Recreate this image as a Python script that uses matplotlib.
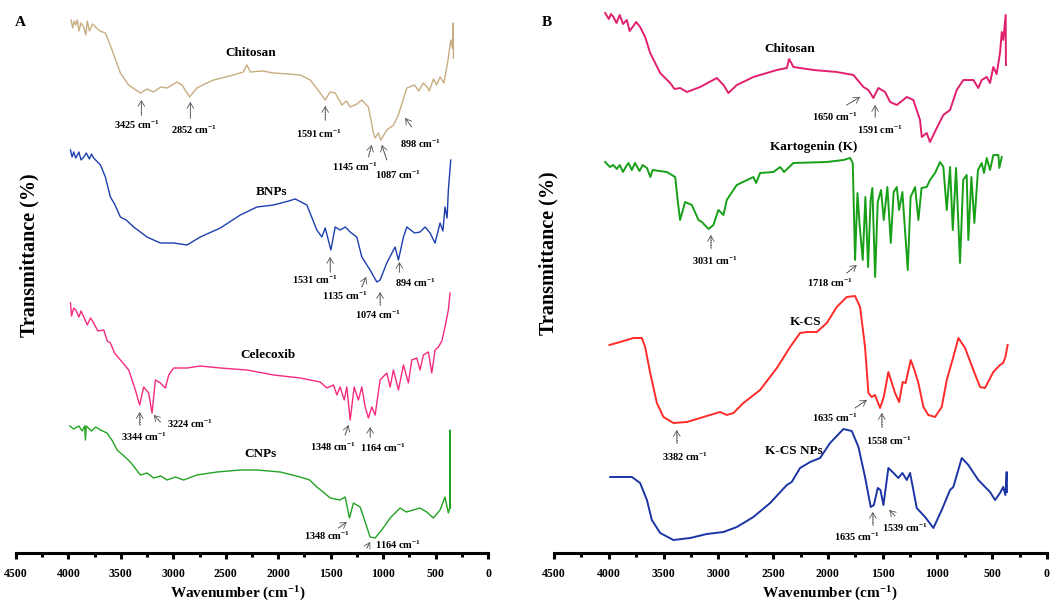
import matplotlib
matplotlib.use('Agg')
import matplotlib.pyplot as plt
from matplotlib.ticker import MultipleLocator

plt.rcParams['font.family'] = ['Liberation Serif', 'DejaVu Serif']
plt.rcParams['font.weight'] = 'bold'
plt.rcParams['mathtext.fontset'] = 'custom'
plt.rcParams['mathtext.rm'] = 'Liberation Serif:bold'
plt.rcParams['mathtext.bf'] = 'Liberation Serif:bold'
plt.rcParams['mathtext.default'] = 'bf'

SUP = r'cm$^{-1}$'

# ---------------- Panel A data (wavenumber cm-1, stacked transmittance a.u.) ----------------
chitosanA_wn = [3974, 3960, 3945, 3930, 3915, 3900, 3880, 3854, 3835, 3820, 3800, 3770, 3743, 3700, 3648,
                3584, 3505, 3427, 3314, 3250, 3190, 3120, 3060, 2965, 2917, 2845, 2775, 2700, 2617, 2427,
                2333, 2298, 2267, 2150, 2045, 1900, 1790, 1695, 1600, 1552, 1505, 1457, 1393, 1350, 1314,
                1250, 1203, 1140, 1092, 1076, 1045, 1022, 965, 900, 855, 774, 700, 660, 617, 580, 560,
                520, 490, 457, 420, 381, 355, 340, 331, 330]
chitosanA_t = [533, 525, 532, 528, 533, 522, 530, 526, 518, 532, 522, 529, 526, 522, 520,
               503, 480, 468, 460, 464, 461, 466, 465, 471, 468, 456, 465, 469, 473, 478,
               481, 488, 481, 482, 480, 479, 478, 473, 460, 453, 461, 460, 448, 452, 446,
               449, 453, 446, 420, 415, 420, 413, 423, 428, 438, 465, 468, 462, 470, 466, 462,
               474, 468, 476, 470, 493, 513, 505, 530, 495]

bnps_wn = [3981, 3965, 3950, 3930, 3900, 3880, 3854, 3830, 3800, 3780, 3759, 3695, 3648, 3600, 3560,
           3505, 3450, 3378, 3251, 3124, 2997, 2870, 2743, 2552, 2362, 2203, 2044, 1900, 1838, 1727,
           1632, 1584, 1552, 1498, 1457, 1410, 1360, 1314, 1251, 1203, 1124, 1060, 1029, 965, 886,
           854, 806, 774, 700, 648, 600, 552, 505, 457, 430, 410, 390, 378, 355]
bnps_t = [403, 396, 401, 395, 401, 393, 396, 400, 394, 399, 395, 388, 376, 356, 349,
          336, 333, 326, 316, 310, 310, 308, 316, 325, 338, 346, 348, 352, 354, 348,
          323, 316, 325, 303, 326, 323, 326, 321, 316, 296, 283, 271, 273, 290, 306,
          293, 316, 326, 320, 321, 326, 320, 310, 330, 322, 346, 335, 363, 393]

celecoxib_wn = [3981, 3970, 3950, 3930, 3900, 3880, 3854, 3820, 3790, 3759, 3720, 3663, 3630, 3600, 3560,
                3505, 3425, 3362, 3321, 3283, 3235, 3203, 3171, 3124, 3076, 3044, 2997, 2870, 2743, 2552,
                2298, 2044, 1790, 1600, 1536, 1473, 1441, 1410, 1371, 1346, 1314, 1276, 1235, 1203, 1171,
                1140, 1108, 1076, 1029, 965, 933, 902, 854, 806, 759, 727, 679, 648, 616, 568,
                536, 505, 473, 440, 410, 378, 362]
celecoxib_t = [250, 237, 245, 243, 236, 242, 236, 228, 235, 230, 222, 223, 212, 210, 200,
               193, 183, 163, 148, 166, 160, 140, 173, 170, 165, 178, 185, 185, 187, 185,
               183, 178, 175, 171, 165, 168, 158, 166, 153, 166, 133, 166, 153, 166, 146,
               135, 146, 138, 173, 180, 166, 183, 163, 188, 170, 193, 195, 183, 198, 201,
               180, 203, 206, 212, 226, 243, 260]

cnps_wn = [3987, 3950, 3900, 3870, 3845, 3838, 3830, 3780, 3740, 3695, 3632, 3580, 3536, 3470, 3410,
           3314, 3250, 3187, 3120, 3060, 2980, 2902, 2775, 2584, 2362, 2203, 1981, 1790, 1700, 1632,
           1560, 1505, 1410, 1362, 1321, 1283, 1219, 1171, 1124, 1076, 1013, 933, 838, 780, 711,
           650, 584, 521, 457, 410, 378, 365, 362, 360]
cnps_t = [127, 124, 127, 122, 127, 113, 127, 122, 126, 123, 120, 112, 103, 97, 91,
          78, 80, 75, 77, 73, 76, 73, 78, 81, 83, 83, 81, 76, 73, 66,
          60, 55, 53, 56, 35, 50, 46, 31, 16, 15, 23, 35, 45, 41, 43,
          45, 41, 35, 43, 56, 40, 45, 123, 45]

# ---------------- Panel B data ----------------
chitosanB_wn = [4033, 4000, 3980, 3957, 3930, 3900, 3870, 3835, 3810, 3789, 3750, 3714, 3668, 3622, 3531,
                3440, 3400, 3349, 3287, 3166, 3014, 2953, 2908, 2831, 2680, 2466, 2375, 2354, 2315, 2132,
                1919, 1767, 1676, 1630, 1585, 1539, 1478, 1432, 1371, 1280, 1220, 1159, 1143, 1098, 1068,
                1006, 946, 885, 824, 764, 672, 627, 596, 550, 520, 490, 460, 429, 413, 399, 377, 375]
chitosanB_t = [540, 534, 539, 536, 530, 538, 529, 533, 522, 525, 531, 526, 516, 500, 480,
               470, 464, 465, 461, 466, 475, 468, 460, 468, 476, 483, 485, 494, 486, 483,
               481, 478, 466, 463, 455, 465, 461, 451, 448, 456, 453, 433, 416, 420, 411,
               425, 438, 443, 463, 473, 473, 465, 473, 476, 470, 486, 479, 500, 521, 513, 538, 488]

kartogenin_wn = [4033, 3990, 3960, 3926, 3900, 3870, 3840, 3820, 3790, 3760, 3720, 3690, 3652, 3620, 3600,
                 3470, 3394, 3364, 3349, 3303, 3242, 3181, 3150, 3090, 3045, 2999, 2953, 2923, 2832, 2680,
                 2655, 2619, 2497, 2436, 2400, 2315, 2010, 1858, 1797, 1773, 1752, 1730, 1712, 1682, 1658,
                 1633, 1610, 1594, 1569, 1545, 1515, 1490, 1457, 1426, 1400, 1371, 1350, 1320, 1271, 1245,
                 1204, 1174, 1145, 1098, 1068, 1022, 976, 946, 915, 885, 860, 830, 794, 765, 733,
                 718, 690, 663, 630, 596, 575, 550, 520, 490, 444, 435, 413]
kartogenin_t = [391, 386, 388, 384, 388, 381, 387, 390, 383, 390, 382, 388, 385, 376, 383,
                381, 376, 346, 333, 351, 348, 333, 331, 324, 328, 343, 338, 353, 368, 376,
                370, 380, 381, 386, 381, 390, 391, 393, 395, 390, 293, 360, 330, 293, 356,
                286, 353, 365, 276, 351, 363, 333, 366, 310, 361, 366, 343, 361, 283, 356,
                366, 333, 365, 366, 373, 380, 391, 386, 343, 386, 323, 385, 290, 373, 378,
                313, 376, 330, 383, 390, 380, 395, 383, 398, 398, 385, 396]

kcs_wn = [3994, 3896, 3775, 3698, 3668, 3622, 3561, 3501, 3410, 3287, 3136, 2984, 2923, 2862, 2771,
          2619, 2466, 2345, 2254, 2193, 2101, 2010, 1919, 1828, 1752, 1706, 1661, 1630, 1600, 1570,
          1524, 1490, 1448, 1387, 1350, 1317, 1290, 1244, 1210, 1174, 1128, 1083, 1022, 961, 915,
          855, 809, 748, 672, 611, 566, 490, 429, 400, 380, 359]
kcs_t = [208, 211, 215, 215, 206, 180, 150, 136, 130, 131, 136, 141, 138, 140, 150,
         163, 185, 206, 220, 221, 221, 230, 246, 256, 257, 246, 206, 160, 156, 158,
         145, 156, 181, 160, 151, 171, 170, 193, 183, 170, 146, 138, 136, 146, 173,
         196, 215, 205, 183, 166, 165, 181, 188, 190, 196, 208]

kcsnps_wn = [3987, 3866, 3789, 3714, 3652, 3607, 3531, 3410, 3257, 3105, 2953, 2831, 2680, 2527, 2375,
             2330, 2254, 2162, 2071, 1980, 1858, 1782, 1721, 1661, 1609, 1580, 1545, 1520, 1493, 1448,
             1410, 1357, 1320, 1280, 1250, 1220, 1189, 1113, 1037, 961, 885, 855, 778, 718, 627,
             520, 474, 429, 400, 380, 368, 365]
kcsnps_t = [76, 76, 76, 70, 53, 33, 20, 13, 15, 19, 21, 26, 36, 50, 68,
            71, 85, 91, 95, 110, 124, 122, 106, 76, 46, 48, 65, 63, 48, 85,
            81, 75, 80, 73, 80, 63, 45, 36, 25, 43, 63, 66, 95, 88, 73,
            61, 53, 60, 66, 58, 81, 61]

series_A = [
    ('Chitosan', chitosanA_wn, chitosanA_t, '#c8ad80'),
    ('BNPs', bnps_wn, bnps_t, '#1c3fae'),
    ('Celecoxib', celecoxib_wn, celecoxib_t, '#f52a7f'),
    ('CNPs', cnps_wn, cnps_t, '#22a322'),
]
series_B = [
    ('Chitosan', chitosanB_wn, chitosanB_t, '#e0206e'),
    ('Kartogenin (K)', kartogenin_wn, kartogenin_t, '#18a018'),
    ('K-CS', kcs_wn, kcs_t, '#ff2a2a'),
    ('K-CS NPs', kcsnps_wn, kcsnps_t, '#1b35a5'),
]

xticks = [4500, 4000, 3500, 3000, 2500, 2000, 1500, 1000, 500, 0]

# sample names and their label positions (layout)
names_A = [('Chitosan', 2260, 500), ('BNPs', 2060, 361), ('Celecoxib', 2098, 198), ('CNPs', 2171, 99)]
names_B = [('Chitosan', 2351, 504), ('Kartogenin (K)', 2132, 406), ('K-CS', 2208, 231), ('K-CS NPs', 2315, 102)]

# peak annotations: wavenumber label, text position, arrow tail, arrow tip (layout)
peaks_A = [
    ('3425', (3346, 428), (3305, 438), (3305, 453)),
    ('2852', (2807, 423), (2838, 435), (2838, 451)),
    ('1591', (1616, 419), (1552, 433), (1552, 447)),
    ('898', (648, 409), (727, 426), (790, 435)),
    ('1145', (1267, 386), (1140, 396), (1108, 408)),
    ('1087', (854, 378), (965, 393), (1012, 408)),
    ('1531', (1648, 273), (1505, 281), (1505, 296)),
    ('1135', (1362, 257), (1203, 266), (1162, 276)),
    ('894', (695, 270), (845, 281), (845, 291)),
    ('1074', (1045, 238), (1029, 248), (1029, 261)),
    ('3344', (3283, 116), (3321, 128), (3321, 141)),
    ('3224', (2838, 129), (3124, 131), (3187, 138)),
    ('1348', (1479, 106), (1362, 118), (1330, 128)),
    ('1164', (997, 105), (1124, 116), (1124, 126)),
    ('1348', (1536, 17), (1426, 25), (1346, 31)),
    ('1164', (854, 8), (1155, 5), (1124, 11)),
]
peaks_B = [
    ('1650', (1934, 436), (1828, 448), (1706, 456)),
    ('1591', (1524, 423), (1569, 436), (1569, 448)),
    ('3031', (3029, 292), (3068, 305), (3068, 318)),
    ('1718', (1980, 270), (1828, 280), (1736, 288)),
    ('1635', (1934, 135), (1752, 145), (1645, 153)),
    ('1558', (1439, 112), (1508, 126), (1508, 140)),
    ('3382', (3303, 96), (3379, 110), (3379, 123)),
    ('1635', (1736, 16), (1590, 28), (1590, 41)),
    ('1539', (1296, 25), (1387, 37), (1439, 43)),
]

W, H = 1056, 604
fig = plt.figure(figsize=(W / 100, H / 100), dpi=100)
axA = fig.add_axes([16 / W, 1 - 553 / H, 472 / W, 553 / H])
axB = fig.add_axes([554 / W, 1 - 553 / H, 493 / W, 553 / H])


def style(ax):
    ax.set_xlim(4500, 0)
    ax.set_ylim(0, 553)
    ax.patch.set_alpha(0)
    for s in ('top', 'right', 'left'):
        ax.spines[s].set_visible(False)
    ax.spines['bottom'].set_linewidth(2.2)
    ax.set_yticks([])
    ax.set_xticks(xticks)
    ax.set_xticklabels([str(v) for v in xticks])
    ax.xaxis.set_minor_locator(MultipleLocator(250))
    ax.tick_params(axis='x', which='major', direction='out', length=4, width=2.2,
                   labelsize=8.5, pad=7)
    ax.tick_params(axis='x', which='minor', direction='out', length=3, width=2.2)
    for lab in ax.get_xticklabels():
        lab.set_fontweight('bold')


def arrow(ax, tail, tip):
    ax.plot([tail[0], tip[0]], [tail[1], tip[1]], ls=':', lw=0.7, color='#555555', clip_on=False)
    ax.annotate('', xy=tip, xytext=tail,
                arrowprops=dict(arrowstyle='->,head_length=0.5,head_width=0.3', lw=0.6,
                                color='#555555', shrinkA=0, shrinkB=0, mutation_scale=8))


def draw(ax, series, names, peaks, lw):
    for name, wn, t, col in series:
        ax.plot(wn, t, color=col, lw=lw, clip_on=False, solid_joinstyle='round')
    for name, x, y in names:
        ax.text(x, y, name, fontsize=9.5, fontweight='bold', ha='center', va='center')
    for lab, tp, tail, tip in peaks:
        ax.text(tp[0], tp[1], lab + ' ' + SUP, fontsize=7.5, fontweight='bold',
                ha='center', va='center')
        arrow(ax, tail, tip)


style(axA)
style(axB)
draw(axA, series_A, names_A, peaks_A, 1.0)
draw(axB, series_B, names_B, peaks_B, 1.4)

xlab = 'Wavenumber (' + SUP + ')'
fig.text(238 / W, 1 - 594 / H, xlab, fontsize=11, fontweight='bold', ha='center', va='center')
fig.text(830 / W, 1 - 594 / H, xlab, fontsize=11, fontweight='bold', ha='center', va='center')

fig.text(20 / W, 1 - 22 / H, 'A', fontsize=11, fontweight='bold', ha='center', va='center')
fig.text(547 / W, 1 - 22 / H, 'B', fontsize=11, fontweight='bold', ha='center', va='center')
fig.text(29 / W, 1 - 255 / H, 'Transmittance (%)', rotation=90, fontsize=14.5,
         fontweight='bold', ha='center', va='center')
fig.text(548 / W, 1 - 253 / H, 'Transmittance (%)', rotation=90, fontsize=14.5,
         fontweight='bold', ha='center', va='center')

fig.savefig('out.png', dpi=100)
